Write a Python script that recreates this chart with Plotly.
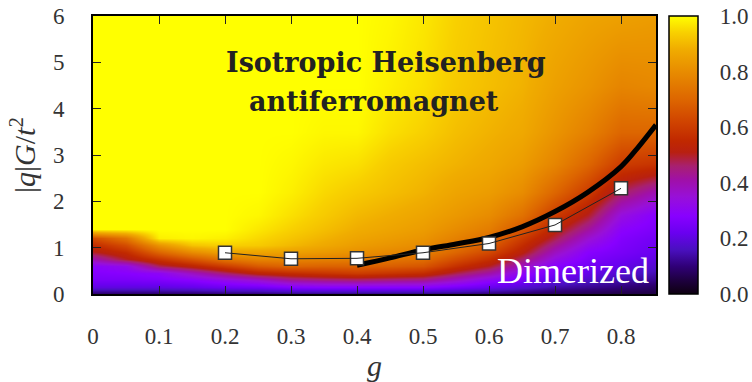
import numpy as np
import plotly.graph_objects as go

# ---- data ----
g_grid = [0.00, 0.05, 0.10, 0.15, 0.20, 0.25, 0.30, 0.35, 0.40,
          0.45, 0.50, 0.55, 0.60, 0.65, 0.70, 0.75, 0.80, 0.85]
q_grid = [0, 0.15, 0.3, 0.45, 0.6, 0.75, 0.9, 1.05, 1.2, 1.4, 1.7, 2.2, 2.8, 3.5, 4.5, 6]

# one list per g column, values from bottom (q=0) to top (q=6)
col_000 = [0.08, 0.20, 0.25, 0.27, 0.29, 0.40, 0.50, 0.56, 0.64, 1.00, 1, 1, 1, 1, 1, 1]
col_005 = [0.08, 0.20, 0.25, 0.28, 0.32, 0.50, 0.56, 0.64, 0.74, 1.00, 1, 1, 1, 1, 1, 1]
col_010 = [0.08, 0.20, 0.26, 0.30, 0.47, 0.58, 0.70, 0.82, 0.98, 1, 1, 1, 1, 1, 1, 1]
col_015 = [0.08, 0.21, 0.28, 0.38, 0.53, 0.66, 0.80, 0.92, 0.99, 1, 1, 1, 1, 1, 1, 1]
col_020 = [0.09, 0.23, 0.32, 0.46, 0.60, 0.74, 0.86, 0.94, 0.98, 1, 1, 1, 1, 1, 1, 1]
col_025 = [0.09, 0.24, 0.36, 0.53, 0.67, 0.78, 0.86, 0.93, 0.95, 0.97, 0.99, 1, 1, 1, 1, 1]
col_030 = [0.10, 0.27, 0.42, 0.56, 0.70, 0.78, 0.85, 0.90, 0.92, 0.94, 0.96, 0.98, 0.99, 1, 1, 1]
col_035 = [0.10, 0.28, 0.44, 0.58, 0.69, 0.77, 0.83, 0.87, 0.89, 0.91, 0.93, 0.95, 0.97, 0.99, 1, 1]
col_040 = [0.10, 0.28, 0.45, 0.60, 0.69, 0.76, 0.81, 0.84, 0.86, 0.88, 0.90, 0.93, 0.96, 0.99, 1, 1]
col_045 = [0.10, 0.28, 0.44, 0.58, 0.68, 0.74, 0.79, 0.82, 0.84, 0.86, 0.88, 0.91, 0.93, 0.96, 0.98, 0.99]
col_050 = [0.10, 0.28, 0.43, 0.56, 0.66, 0.72, 0.77, 0.80, 0.82, 0.84, 0.86, 0.89, 0.91, 0.94, 0.96, 0.97]
col_055 = [0.10, 0.25, 0.37, 0.48, 0.57, 0.64, 0.70, 0.74, 0.77, 0.80, 0.83, 0.86, 0.89, 0.91, 0.93, 0.94]
col_060 = [0.09, 0.22, 0.30, 0.41, 0.50, 0.57, 0.63, 0.68, 0.72, 0.76, 0.80, 0.84, 0.87, 0.89, 0.91, 0.92]
col_065 = [0.08, 0.18, 0.25, 0.30, 0.38, 0.46, 0.52, 0.56, 0.60, 0.66, 0.73, 0.80, 0.84, 0.87, 0.89, 0.90]
col_070 = [0.07, 0.14, 0.20, 0.25, 0.28, 0.33, 0.38, 0.43, 0.48, 0.53, 0.60, 0.70, 0.78, 0.82, 0.85, 0.88]
col_075 = [0.06, 0.12, 0.17, 0.21, 0.24, 0.26, 0.28, 0.32, 0.36, 0.42, 0.50, 0.60, 0.70, 0.77, 0.82, 0.86]
col_080 = [0.05, 0.10, 0.14, 0.18, 0.21, 0.23, 0.25, 0.26, 0.27, 0.29, 0.34, 0.47, 0.60, 0.70, 0.78, 0.85]
col_085 = [0.05, 0.08, 0.12, 0.15, 0.18, 0.20, 0.22, 0.23, 0.24, 0.26, 0.28, 0.40, 0.58, 0.70, 0.79, 0.84]

columns = [col_000, col_005, col_010, col_015, col_020, col_025, col_030, col_035, col_040,
           col_045, col_050, col_055, col_060, col_065, col_070, col_075, col_080, col_085]

# square-marker data
g_pts = [0.2, 0.3, 0.4, 0.5, 0.6, 0.7, 0.8]
q_pts = [0.89, 0.76, 0.77, 0.89, 1.09, 1.49, 2.28]

# thick black curve
g_curve = [0.40, 0.45, 0.50, 0.55, 0.60, 0.65, 0.70, 0.75, 0.80, 0.825, 0.853]
q_curve = [0.62, 0.78, 0.95, 1.08, 1.22, 1.45, 1.78, 2.20, 2.75, 3.15, 3.65]

x_ticks = [0, 0.1, 0.2, 0.3, 0.4, 0.5, 0.6, 0.7, 0.8]
y_ticks = [0, 1, 2, 3, 4, 5, 6]
cb_ticks = [0.0, 0.2, 0.4, 0.6, 0.8, 1.0]

z = np.array(columns).T.tolist()

colorscale = [
    [0.00, '#0e0010'], [0.05, '#1e0040'], [0.10, '#300078'], [0.16, '#4a10c0'],
    [0.22, '#6a00f0'], [0.28, '#8800ff'], [0.35, '#9810d8'], [0.41, '#a010a8'],
    [0.46, '#a82070'], [0.51, '#b82010'], [0.55, '#c02800'], [0.62, '#d04400'],
    [0.70, '#dd6600'], [0.80, '#e88c00'], [0.88, '#f0ac00'], [0.94, '#f8d000'],
    [1.00, '#ffff00'],
]

FONT = 'Liberation Serif'
BOLD_FONT = 'DejaVu Serif'
TXT = '#333333'

fig = go.Figure()
fig.add_trace(go.Heatmap(
    x=g_grid, y=q_grid, z=z, zmin=0, zmax=1, zsmooth='best',
    colorscale=colorscale, hoverinfo='skip',
    colorbar=dict(
        x=1.023, xanchor='left', y=0.5, yanchor='middle', len=1, lenmode='fraction',
        thickness=29, xpad=0, ypad=0, outlinewidth=1.5, outlinecolor='black',
        ticks='outside', ticklen=17, tickcolor='white', tickvals=cb_ticks,
        tickformat='.1f', tickfont=dict(family=FONT, size=23, color=TXT),
    ),
))
fig.add_trace(go.Scatter(
    x=g_curve, y=q_curve, mode='lines', line=dict(color='black', width=5, shape='spline'),
    hoverinfo='skip', showlegend=False,
))
fig.add_trace(go.Scatter(
    x=g_pts, y=q_pts, mode='markers',
    marker=dict(symbol='square', size=13, color='white', line=dict(color='#333333', width=1.5)),
    showlegend=False,
))
fig.add_trace(go.Scatter(
    x=g_pts, y=q_pts, mode='lines', line=dict(color='#222222', width=1),
    hoverinfo='skip', showlegend=False,
))

fig.add_annotation(x=0.444, y=4.99, xref='x', yref='y', text='<b>Isotropic Heisenberg</b>',
                   showarrow=False, font=dict(family=BOLD_FONT, size=27, color='#222222'))
fig.add_annotation(x=0.426, y=4.15, xref='x', yref='y', text='<b>antiferromagnet</b>',
                   showarrow=False, font=dict(family=BOLD_FONT, size=27, color='#222222'))
fig.add_annotation(x=0.727, y=0.5, xref='x', yref='y', text='Dimerized',
                   showarrow=False, font=dict(family=FONT, size=36, color='white'))

axis_common = dict(
    showgrid=False, zeroline=False, ticks='inside', ticklen=8, tickwidth=1.2, tickcolor='#222222',
    showline=True, linecolor='black', linewidth=2, mirror='ticks',
    tickfont=dict(family=FONT, size=23, color=TXT),
)

fig.update_layout(
    width=752, height=382,
    margin=dict(l=93, r=96, t=16, b=88, autoexpand=False),
    paper_bgcolor='white', plot_bgcolor='white',
    xaxis=dict(range=[0, 0.853], tickvals=x_ticks, ticklabelstandoff=20,
               title=dict(text='<i>g</i>', font=dict(family=FONT, size=30, color=TXT), standoff=6),
               **axis_common),
    yaxis=dict(range=[0, 6], tickvals=y_ticks, ticklabelstandoff=22,
               title=dict(text='|<i>q</i>|<i>G</i>/<i>t</i><sup>2</sup>',
                          font=dict(family=FONT, size=30, color=TXT), standoff=8),
               **axis_common),
    showlegend=False,
)

fig.write_html('out.html')
